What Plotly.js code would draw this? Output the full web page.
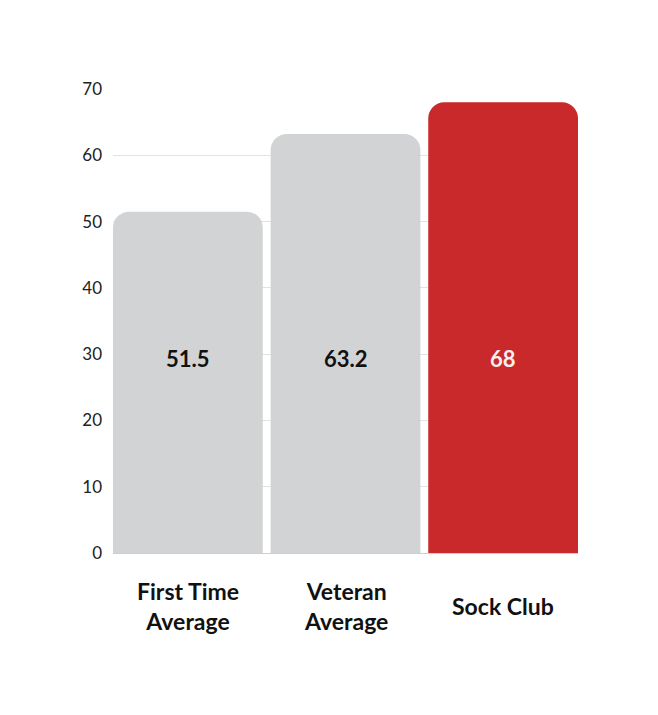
<!DOCTYPE html>
<html>
<head>
<meta charset="utf-8">
<script src="https://cdn.plot.ly/plotly-3.0.1.min.js"></script>
<style>html,body{margin:0;padding:0;background:#fff;}#chart{width:658px;height:715px;}</style>
</head>
<body>
<div id="chart"></div>
<script>
var categories = ["First Time Average", "Veteran Average", "Sock Club"];
var categoryLabels = ["First Time<br>Average", "Veteran<br>Average", "Sock Club"];
var values = [51.5, 63.2, 68];
var barColors = ["#d1d3d4", "#d1d3d4", "#c9292a"];
var labelColors = ["#111111", "#111111", "#fbeeee"];
var tickValues = [0, 10, 20, 30, 40, 50, 60, 70];

var FONT = "Lato, 'Noto Sans', sans-serif";

var trace = {
  type: "bar",
  x: categories,
  y: values,
  marker: {color: barColors, line: {width: 0}, cornerradius: 16},
  hoverinfo: "none"
};

var annotations = categories.map(function (c, i) {
  return {
    x: c, y: 29.4, xref: "x", yref: "y",
    text: String(values[i]),
    showarrow: false,
    font: {family: FONT, size: 22, color: labelColors[i], weight: 700}
  };
}).concat(categories.map(function (c, i) {
  return {
    x: c, y: -0.114, xref: "x", yref: "paper",
    yanchor: "middle", xanchor: "center",
    text: categoryLabels[i],
    showarrow: false,
    font: {family: FONT, size: 23, color: "#111", weight: 700}
  };
}));

var layout = {
  width: 658, height: 715,
  margin: {l: 113, r: 80, t: 89, b: 162},
  paper_bgcolor: "#fff", plot_bgcolor: "#fff",
  bargap: 0.05,
  showlegend: false,
  xaxis: {
    range: [-0.475, 2.475],
    showticklabels: false,
    ticks: "",
    showgrid: false, showline: false, zeroline: false
  },
  yaxis: {
    range: [0, 70], tickvals: tickValues,
    tickfont: {family: FONT, size: 17, color: "#222"},
    showgrid: true, gridcolor: "#e2e2e2", gridwidth: 1,
    zeroline: true, zerolinecolor: "#cfcfcf", zerolinewidth: 1,
    ticks: "", ticklabelstandoff: 10, showline: false
  },
  annotations: annotations
};

Plotly.newPlot("chart", [trace], layout, {displayModeBar: false, staticPlot: true});
</script>
</body>
</html>
